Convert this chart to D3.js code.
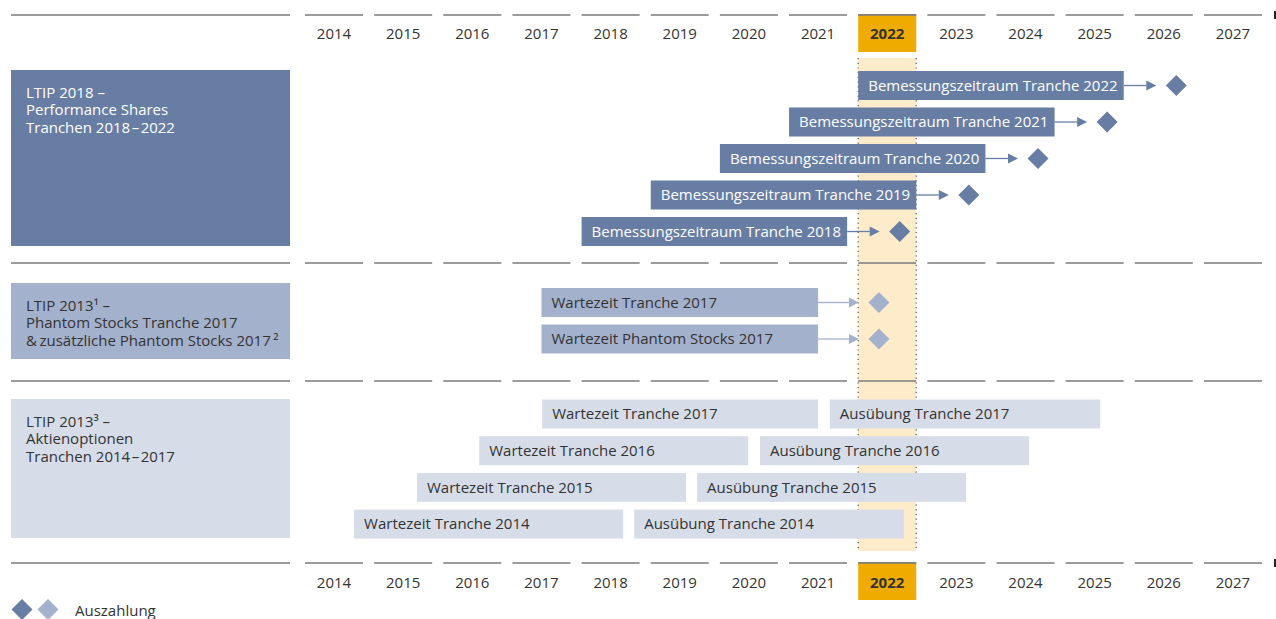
<!DOCTYPE html>
<html><head><meta charset="utf-8">
<script src="https://cdn.jsdelivr.net/npm/d3@7"></script>
<style>
html,body{margin:0;padding:0;background:#fff;}
svg text{font-family:"Open Sans","Noto Sans",sans-serif;}
</style></head>
<body>
<svg id="chart" width="1276" height="619"></svg>
<script>
// ---------- DATA ----------
const years = [2014,2015,2016,2017,2018,2019,2020,2021,2022,2023,2024,2025,2026,2027];
const currentYear = 2022;

const sectionLabels = [
  ["LTIP 2018 –", "Performance Shares", "Tranchen 2018\u200a–\u200a2022"],
  ["LTIP 2013¹ –", "Phantom Stocks Tranche 2017", "&\u2009zusätzliche Phantom Stocks 2017\u2009²"],
  ["LTIP 2013³ –", "Aktienoptionen", "Tranchen 2014\u200a–\u200a2017"]
];

// LTIP 2018 – performance shares
const psLabels = ["Bemessungszeitraum Tranche 2022","Bemessungszeitraum Tranche 2021","Bemessungszeitraum Tranche 2020","Bemessungszeitraum Tranche 2019","Bemessungszeitraum Tranche 2018"];
const psStart  = [2022, 2021, 2020, 2019, 2018];
const psEnd    = [2025.84, 2024.84, 2023.84, 2022.84, 2021.84];
const psPayout = [2026.6, 2025.6, 2024.6, 2023.6, 2022.6];

// LTIP 2013 – phantom stocks
const phLabels = ["Wartezeit Tranche 2017","Wartezeit Phantom Stocks 2017"];
const phStart  = [2017.42, 2017.42];
const phEnd    = [2021.42, 2021.42];
const phPayout = [2022.3, 2022.3];

// LTIP 2013 – stock options
const waitLabels = ["Wartezeit Tranche 2017","Wartezeit Tranche 2016","Wartezeit Tranche 2015","Wartezeit Tranche 2014"];
const waitStart  = [2017.43, 2016.52, 2015.62, 2014.71];
const waitEnd    = [2021.42, 2020.41, 2019.51, 2018.60];
const exLabels   = ["Ausübung Tranche 2017","Ausübung Tranche 2016","Ausübung Tranche 2015","Ausübung Tranche 2014"];
const exStart    = [2021.59, 2020.58, 2019.67, 2018.76];
const exEnd      = [2025.50, 2024.47, 2023.56, 2022.66];

const legendLabel = "Auszahlung";

// ---------- STYLE / LAYOUT ----------
const C_DARK = "#687da3", C_MID = "#a4b1cc", C_LIGHT = "#d7dde8";
const C_GOLD = "#efab00", C_CREAM = "#fdebc9", C_LINE = "#7a7a7a", C_TEXT = "#333333";
const colW = 58, barH = 29, FS = 15;
const svg = d3.select("#chart");

const x = d3.scaleLinear().domain([2014, 2028]).range([305, 305 + 14*69.15]);

// highlighted column
const hx = x(currentYear);
svg.append("rect").attr("x", hx).attr("y", 58).attr("width", colW).attr("height", 493).attr("fill", C_CREAM);
[hx, hx + colW].forEach(v => {
  svg.append("line").attr("x1", v).attr("x2", v).attr("y1", 58).attr("y2", 551)
    .attr("stroke", "#555").attr("stroke-width", 1.2).attr("stroke-dasharray", "1.2,3.5");
});

// horizontal rule lines
const ruleYs = [15, 263, 381, 563];
ruleYs.forEach(yy => {
  svg.append("line").attr("x1", 11).attr("x2", 290).attr("y1", yy).attr("y2", yy).attr("stroke", C_LINE).attr("stroke-width", 1.6);
  svg.selectAll(null).data(years).enter().append("line")
    .attr("x1", d => x(d)).attr("x2", d => x(d) + colW).attr("y1", yy).attr("y2", yy)
    .attr("stroke", C_LINE).attr("stroke-width", 1.6);
});
// right end marks
[15, 563].forEach(yy => {
  svg.append("rect").attr("x", 1274).attr("y", yy - 4).attr("width", 2).attr("height", 8).attr("fill", "#222");
});

// year header rows (top and bottom)
[[15, 33.5], [563, 582.5]].forEach(([yy, ty]) => {
  svg.append("rect").attr("x", hx).attr("y", yy).attr("width", colW).attr("height", 37).attr("fill", C_GOLD);
  svg.append("line").attr("x1", hx).attr("x2", hx + colW).attr("y1", yy).attr("y2", yy).attr("stroke", C_LINE).attr("stroke-width", 1.6);
  svg.selectAll(null).data(years).enter().append("text")
    .attr("x", d => x(d) + colW/2).attr("y", ty).attr("dy", "0.35em")
    .attr("text-anchor", "middle").attr("font-size", FS)
    .attr("font-weight", d => d === currentYear ? 700 : 400)
    .attr("fill", C_TEXT).text(d => d);
});

// section label boxes
const boxes = [
  {y: 70, h: 176, fill: C_DARK, tc: "#ffffff"},
  {y: 283, h: 76, fill: C_MID, tc: C_TEXT},
  {y: 399, h: 139, fill: C_LIGHT, tc: C_TEXT}
];
boxes.forEach((b, i) => {
  svg.append("rect").attr("x", 11).attr("y", b.y).attr("width", 279).attr("height", b.h).attr("fill", b.fill);
  const t = svg.append("text").attr("x", 26).attr("y", b.y + 27.5).attr("font-size", FS).attr("fill", b.tc);
  sectionLabels[i].forEach((ln, j) => {
    t.append("tspan").attr("x", 26).attr("dy", j === 0 ? 0 : 17.6).text(ln);
  });
});

function bars(labels, start, end, y0, step, fill, tc) {
  const g = svg.append("g");
  const idx = d3.range(labels.length);
  g.selectAll("rect").data(idx).enter().append("rect")
    .attr("x", i => x(start[i])).attr("width", i => x(end[i]) - x(start[i]))
    .attr("y", i => y0 + i*step - barH/2).attr("height", barH).attr("fill", fill);
  g.selectAll("text").data(idx).enter().append("text")
    .attr("x", i => x(start[i]) + 10).attr("y", i => y0 + i*step).attr("dy", "0.35em")
    .attr("font-size", FS).attr("fill", tc).text(i => labels[i]);
}

function payouts(end, payout, y0, step, color) {
  const g = svg.append("g");
  const idx = d3.range(end.length);
  g.selectAll("line").data(idx).enter().append("line")
    .attr("x1", i => x(end[i])).attr("x2", i => x(payout[i]) - 30)
    .attr("y1", i => y0 + i*step).attr("y2", i => y0 + i*step)
    .attr("stroke", color).attr("stroke-width", 1.3);
  g.selectAll("path.tri").data(idx).enter().append("path").attr("class", "tri")
    .attr("d", i => { const tx = x(payout[i]) - 20, cy = y0 + i*step; return `M${tx-10},${cy-5}L${tx},${cy}L${tx-10},${cy+5}Z`; })
    .attr("fill", color);
  g.selectAll("path.dia").data(idx).enter().append("path").attr("class", "dia")
    .attr("d", i => { const cx = x(payout[i]), cy = y0 + i*step; return `M${cx},${cy-10.5}L${cx+10.5},${cy}L${cx},${cy+10.5}L${cx-10.5},${cy}Z`; })
    .attr("fill", color);
}

bars(psLabels, psStart, psEnd, 85.5, 36.5, C_DARK, "#ffffff");
payouts(psEnd, psPayout, 85.5, 36.5, C_DARK);

bars(phLabels, phStart, phEnd, 302.5, 36.5, C_MID, C_TEXT);
payouts(phEnd, phPayout, 302.5, 36.5, C_MID);

bars(waitLabels, waitStart, waitEnd, 414, 36.7, C_LIGHT, C_TEXT);
bars(exLabels, exStart, exEnd, 414, 36.7, C_LIGHT, C_TEXT);

// legend
[[22, C_DARK], [48, C_MID]].forEach(([cx, c]) => {
  svg.append("path").attr("d", `M${cx},599L${cx+10.5},609.5L${cx},620L${cx-10.5},609.5Z`).attr("fill", c);
});
svg.append("text").attr("x", 75).attr("y", 610.5).attr("dy", "0.35em").attr("font-size", FS).attr("fill", C_TEXT).text(legendLabel);
</script>
</body></html>
